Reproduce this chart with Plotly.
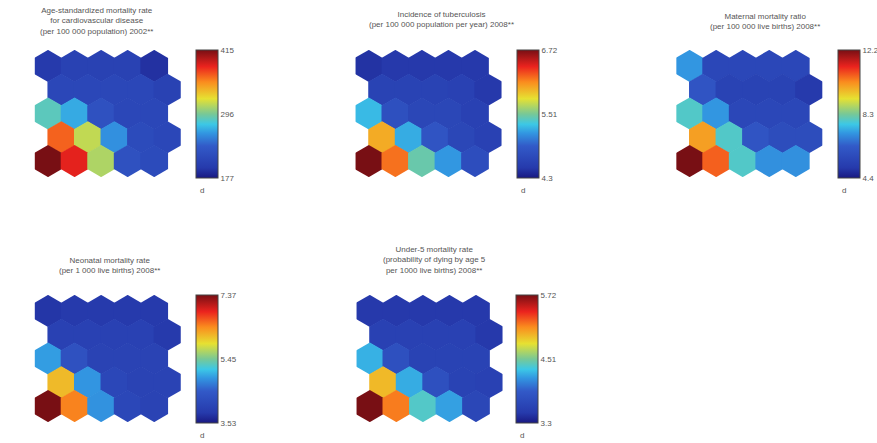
import plotly.graph_objects as go

# ---------------- data (5x5 SOM component planes, rows top->bottom) ----------------
titles = [
    "Age-standardized mortality rate<br>for cardiovascular disease<br>(per 100 000 population) 2002**",
    "Incidence of tuberculosis<br>(per 100 000 population per year) 2008**",
    "Maternal mortality ratio<br>(per 100 000 live births) 2008**",
    "Neonatal mortality rate<br>(per 1 000 live births) 2008**",
    "Under-5 mortality rate<br>(probability of dying by age 5<br>per 1000 live births) 2008**",
]

cardio = [
    [196, 206, 206, 206, 191],
    [213, 213, 213, 213, 206],
    [287, 267, 225, 213, 213],
    [367, 315, 258, 217, 213],
    [415, 386, 310, 225, 217],
]
tuberculosis = [
    [4.45, 4.49, 4.49, 4.49, 4.49],
    [4.61, 4.61, 4.61, 4.59, 4.49],
    [5.27, 4.78, 4.66, 4.66, 4.59],
    [6.00, 5.22, 4.83, 4.66, 4.59],
    [6.72, 6.19, 5.46, 5.15, 4.74],
]
maternal = [
    [7.13, 5.57, 5.57, 5.57, 5.57],
    [6.12, 5.41, 5.41, 5.41, 5.02],
    [7.91, 7.13, 5.57, 5.57, 5.57],
    [10.02, 7.91, 6.12, 5.80, 5.80],
    [12.2, 10.64, 7.91, 7.05, 7.05],
]
neonatal = [
    [3.80, 3.84, 3.84, 3.84, 3.84],
    [3.99, 3.99, 3.99, 3.99, 3.84],
    [4.91, 4.30, 4.03, 4.03, 4.03],
    [6.14, 4.87, 4.11, 4.03, 4.03],
    [7.37, 6.45, 4.85, 4.11, 4.03],
]
under5 = [
    [3.49, 3.49, 3.49, 3.49, 3.49],
    [3.59, 3.59, 3.59, 3.59, 3.49],
    [4.24, 3.78, 3.61, 3.61, 3.61],
    [4.95, 4.22, 3.78, 3.61, 3.59],
    [5.72, 5.16, 4.39, 4.18, 3.66],
]
planes = [cardio, tuberculosis, maternal, neonatal, under5]

cb_min = [177, 4.3, 4.4, 3.53, 3.3]
cb_max = [415, 6.72, 12.2, 7.37, 5.72]
cb_ticktext = [
    ["177", "296", "415"],
    ["4.3", "5.51", "6.72"],
    ["4.4", "8.3", "12.2"],
    ["3.53", "5.45", "7.37"],
    ["3.3", "4.51", "5.72"],
]

# ---------------- layout (pixels) ----------------
W, H = 877, 443
hex_left = [35, 358, 681, 35, 359]
hex_top = [50, 50, 50, 295, 295]
hex_w, hex_h = 147, 127
cb_left = [197, 521, 844, 197, 520]
title_cx = [97, 445, 770, 110, 437]
title_bottom = [38, 31, 33, 277, 277]

jet = [
    [0.0, "rgb(25,25,130)"],
    [0.08, "rgb(38,58,172)"],
    [0.25, "rgb(50,90,200)"],
    [0.35, "rgb(50,150,225)"],
    [0.42, "rgb(60,200,230)"],
    [0.50, "rgb(120,200,150)"],
    [0.62, "rgb(230,225,50)"],
    [0.75, "rgb(250,140,30)"],
    [0.87, "rgb(235,35,30)"],
    [1.0, "rgb(120,15,20)"],
]

fig = go.Figure()
annotations = []
n_rows, n_cols = 5, 5
for i, plane in enumerate(planes):
    xs, ys, vals = [], [], []
    for r in range(n_rows):
        for c in range(n_cols):
            xs.append(c + 0.5 * (r % 2))
            ys.append(-r)
            vals.append(plane[r][c])
    ax = "" if i == 0 else str(i + 1)
    mid = (cb_min[i] + cb_max[i]) / 2
    fig.add_trace(go.Scatter(
        x=xs, y=ys, mode="markers", xaxis="x" + ax, yaxis="y" + ax,
        hoverinfo="text", text=[str(v) for v in vals],
        marker=dict(
            symbol="hexagon", size=32, color=vals, colorscale=jet,
            cmin=cb_min[i], cmax=cb_max[i], line=dict(width=0),
            showscale=True,
            colorbar=dict(
                x=cb_left[i] / W, xanchor="left",
                y=1 - hex_top[i] / H, yanchor="top",
                len=128, lenmode="pixels", thickness=22, thicknessmode="pixels",
                xpad=0, ypad=0, outlinewidth=1, outlinecolor="#444",
                tickvals=[cb_min[i], mid, cb_max[i]], ticktext=cb_ticktext[i],
                ticks="", tickfont=dict(size=8, color="#555", family="Liberation Sans"),
            ),
        ),
    ))
    xd = [hex_left[i] / W, (hex_left[i] + hex_w) / W]
    yd = [1 - (hex_top[i] + hex_h) / H, 1 - hex_top[i] / H]
    fig.layout["xaxis" + ax] = dict(domain=xd, range=[-0.5, 5.0], visible=False, fixedrange=True)
    fig.layout["yaxis" + ax] = dict(domain=yd, range=[-4.667, 0.667], visible=False, fixedrange=True)
    annotations.append(dict(
        text=titles[i], x=title_cx[i] / W, y=1 - title_bottom[i] / H,
        xref="paper", yref="paper", xanchor="center", yanchor="bottom",
        showarrow=False, align="center",
        font=dict(size=8, color="#555", family="Liberation Sans"),
    ))
    annotations.append(dict(
        text="d", x=(cb_left[i] + 6) / W, y=1 - (hex_top[i] + 134) / H,
        xref="paper", yref="paper", xanchor="center", yanchor="top",
        showarrow=False, font=dict(size=8, color="#555", family="Liberation Sans"),
    ))

fig.update_layout(
    width=W, height=H, margin=dict(l=0, r=0, t=0, b=0),
    paper_bgcolor="white", plot_bgcolor="white", showlegend=False,
    annotations=annotations,
)
fig.write_html("out.html")
